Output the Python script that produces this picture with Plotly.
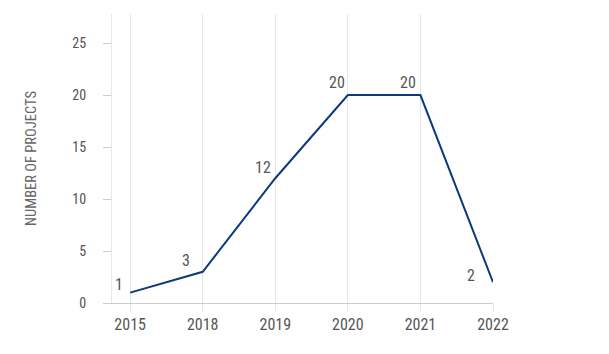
import plotly.graph_objects as go

years = ["2015", "2018", "2019", "2020", "2021", "2022"]
projects = [1, 3, 12, 20, 20, 2]
y_ticks = [0, 5, 10, 15, 20, 25]

# label offsets (pixels) relative to each point
label_dx = [-5, -11, -2, -1, -2, -16]
label_dy = [8, 11, 11, 13, 13, 7]

FONT = "Liberation Sans Narrow, Roboto Condensed, Arial Narrow, Roboto, sans-serif"

fig = go.Figure()
fig.add_trace(go.Scatter(
    x=years, y=projects, mode="lines",
    line=dict(color="#0a3a7e", width=2),
    cliponaxis=False, hoverinfo="skip",
))
# category axes place annotations by category serial number
for i, (y, dx, dy) in enumerate(zip(projects, label_dx, label_dy)):
    fig.add_annotation(
        x=i, y=y, xref="x", yref="y", text=str(y), showarrow=False,
        xanchor="right", yanchor="middle", xshift=dx, yshift=dy,
        font=dict(family=FONT, size=16, color="#555555"),
    )
fig.update_layout(
    width=609, height=354,
    margin=dict(l=112, r=116, t=14, b=51),
    paper_bgcolor="white", plot_bgcolor="white",
    showlegend=False,
    font=dict(family=FONT, color="#555555"),
)
fig.update_xaxes(
    type="category", range=[-0.25, 5],
    showgrid=True, gridcolor="#e6e6e6", gridwidth=1,
    ticks="outside", ticklen=7, tickcolor="#e6e6e6",
    showline=True, linecolor="#cccccc", linewidth=1,
    tickfont=dict(family=FONT, size=16, color="#555555"),
)
fig.update_yaxes(
    range=[0, 27.8], tickvals=y_ticks,
    showgrid=False, zeroline=False,
    ticks="outside", ticklen=8, tickcolor="#cccccc",
    ticklabelstandoff=14,
    showline=True, linecolor="#e6e6e6", linewidth=1,
    tickfont=dict(family=FONT, size=14, color="#555555"),
    title=dict(text="NUMBER OF PROJECTS", font=dict(family=FONT, size=14.5, color="#666666"), standoff=32),
)
fig.write_html("out.html")
